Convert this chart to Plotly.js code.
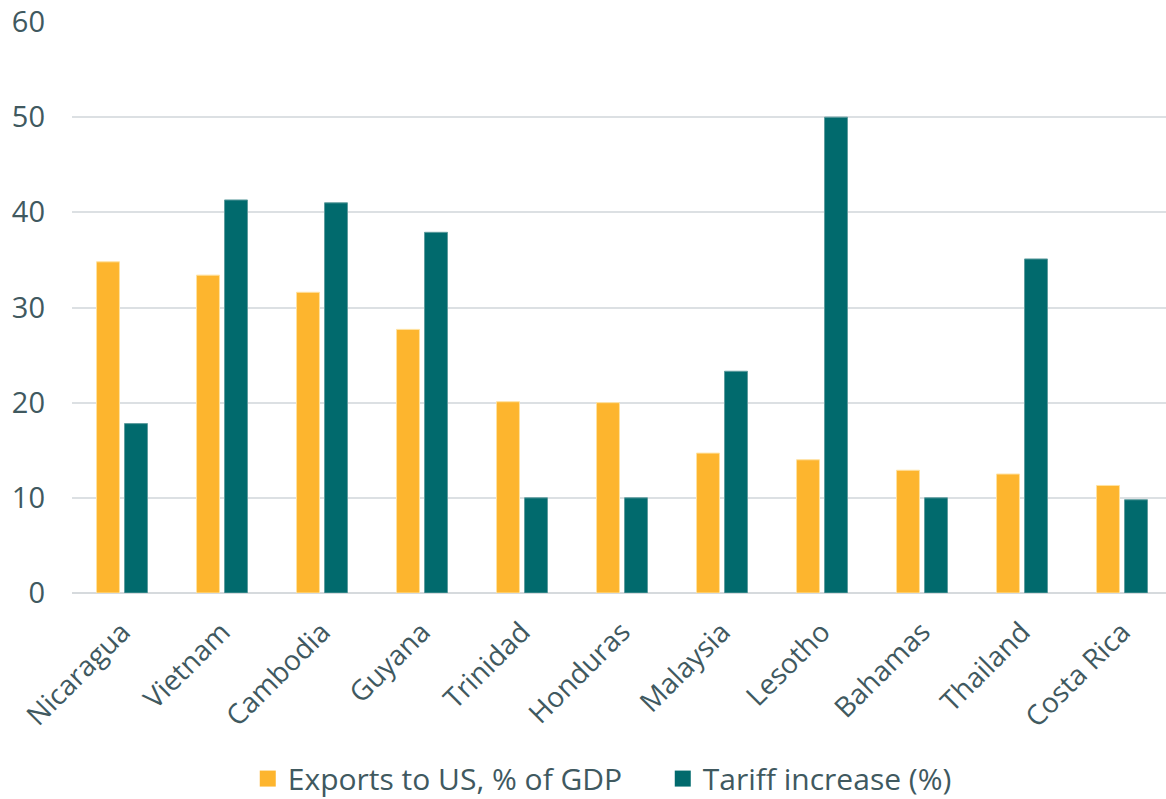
<!DOCTYPE html>
<html>
<head>
<meta charset="utf-8">
<script src="https://cdn.plot.ly/plotly-3.0.1.min.js"></script>
<style>html,body{margin:0;padding:0;background:#fff;}#chart{width:1166px;height:799px;}</style>
</head>
<body>
<div id="chart"></div>
<script>
const countries = ["Nicaragua","Vietnam","Cambodia","Guyana","Trinidad","Honduras","Malaysia","Lesotho","Bahamas","Thailand","Costa Rica"];
const exportsPctGDP = [34.8, 33.4, 31.6, 27.7, 20.1, 20.0, 14.7, 14.0, 12.9, 12.5, 11.3];
const tariffIncrease = [17.8, 41.3, 41.0, 37.9, 10.0, 10.0, 23.3, 50.0, 10.0, 35.1, 9.8];
const seriesNames = ["Exports to US, % of GDP", "Tariff increase (%)"];
const yTicks = [0, 10, 20, 30, 40, 50, 60];

const ORANGE = "#FDB52E";
const TEAL = "#016A6D";
const TXT = "#40595F";
const FONT = "Open Sans, sans-serif";

const data = [
  {type:"bar", x:countries, y:exportsPctGDP, name:seriesNames[0], marker:{color:ORANGE, line:{color:"#FFE2A0", width:1}}, showlegend:false, hoverinfo:"skip"},
  {type:"bar", x:countries, y:tariffIncrease, name:seriesNames[1], marker:{color:TEAL, line:{color:"#5E9C9E", width:1}}, showlegend:false, hoverinfo:"skip"},
  {type:"scatter", mode:"markers", x:[null], y:[null], name:seriesNames[0], marker:{symbol:"square", size:18, color:ORANGE}, showlegend:true},
  {type:"scatter", mode:"markers", x:[null], y:[null], name:seriesNames[1], marker:{symbol:"square", size:18, color:TEAL}, showlegend:true}
];

const layout = {
  width:1166, height:799,
  margin:{l:72, r:0, t:22, b:206, autoexpand:false},
  paper_bgcolor:"#fff", plot_bgcolor:"#fff",
  font:{family:FONT, color:TXT, size:28},
  barmode:"group",
  bargap:0.44,
  bargroupgap:0.18,
  xaxis:{
    type:"category",
    range:[-0.5, 10.44],
    tickangle:-45,
    tickfont:{family:FONT, size:28, color:TXT},
    showgrid:false,
    showline:false,
    zeroline:false,
    ticks:"",
    ticklabelstandoff:16,
    automargin:false
  },
  yaxis:{
    range:[0, 60],
    tickvals:yTicks,
    ticktext:yTicks.map(String),
    tickfont:{family:FONT, size:29, color:TXT},
    showgrid:true,
    gridcolor:"#DCE0E3",
    gridwidth:2,
    zeroline:true,
    zerolinecolor:"#D6DADD",
    zerolinewidth:2,
    showline:false,
    ticks:"",
    ticklabelstandoff:26,
    automargin:false
  },
  legend:{
    orientation:"h",
    x:0.54, xanchor:"center",
    y:-0.325, yanchor:"middle",
    font:{family:FONT, size:30, color:TXT},
    itemsizing:"trace",
    entrywidth:370,
    entrywidthmode:"pixels",
    bgcolor:"rgba(0,0,0,0)"
  },
  showlegend:true
};

Plotly.newPlot("chart", data, layout, {displayModeBar:false, staticPlot:true});
</script>
</body>
</html>
